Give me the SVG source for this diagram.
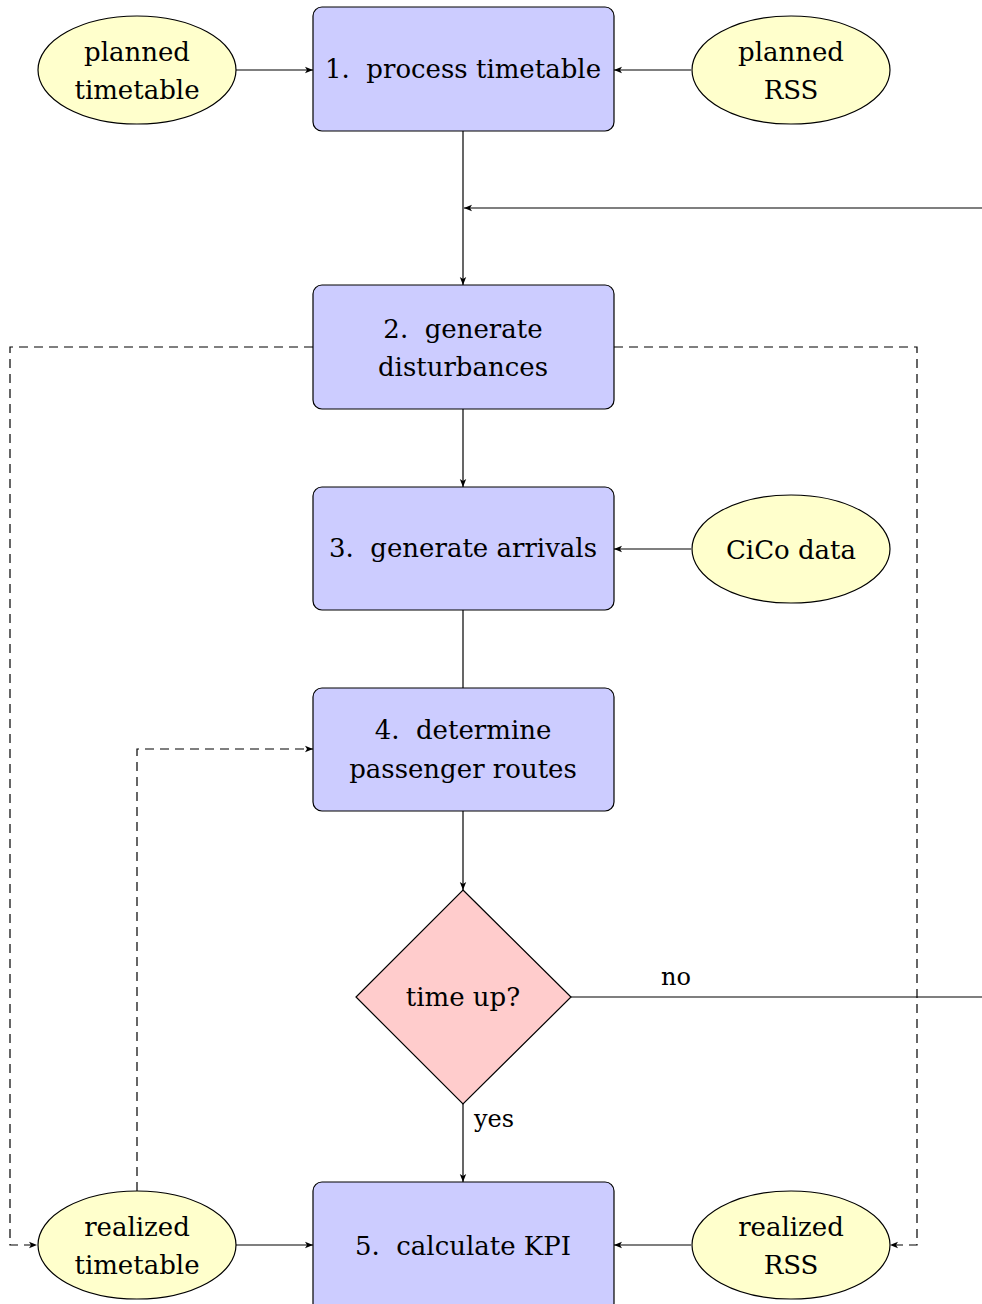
<svg xmlns="http://www.w3.org/2000/svg" width="982" height="1304" viewBox="0 0 982 1304">
<style>
.box{fill:#ccccff;stroke:#000;stroke-width:1.2}
.ell{fill:#ffffcc;stroke:#000;stroke-width:1.2}
.dec{fill:#ffcccc;stroke:#000;stroke-width:1.2}
.t{font-family:"DejaVu Serif","Liberation Serif",serif;font-size:26px;fill:#000;text-anchor:middle}
.tl{font-family:"DejaVu Serif","Liberation Serif",serif;font-size:24px;fill:#000}
.c{fill:none;stroke:#000;stroke-width:1.2}
.d{fill:none;stroke:#000;stroke-width:1.2;stroke-dasharray:9 6}
</style>
<defs>
<marker id="a" viewBox="0 0 10 10" refX="10" refY="5" markerWidth="8" markerHeight="8" markerUnits="userSpaceOnUse" orient="auto">
<path d="M0,1 L10,5 L0,9 L2.5,5 Z" fill="#000"/>
</marker>
</defs>
<g id="connectors">
<line class="c" x1="236" y1="70" x2="313" y2="70" marker-end="url(#a)"/>
<line class="c" x1="691" y1="70" x2="614" y2="70" marker-end="url(#a)"/>
<line class="c" x1="463" y1="131" x2="463" y2="285" marker-end="url(#a)"/>
<polyline class="c" points="571,997 982,997"/>
<line class="c" x1="982" y1="208" x2="464" y2="208" marker-end="url(#a)"/>
<line class="c" x1="463" y1="409" x2="463" y2="487" marker-end="url(#a)"/>
<line class="c" x1="691" y1="549" x2="614" y2="549" marker-end="url(#a)"/>
<line class="c" x1="463" y1="610" x2="463" y2="688"/>
<line class="c" x1="463" y1="811" x2="463" y2="890" marker-end="url(#a)"/>
<line class="c" x1="463" y1="1104" x2="463" y2="1182" marker-end="url(#a)"/>
<line class="c" x1="236" y1="1245" x2="313" y2="1245" marker-end="url(#a)"/>
<line class="c" x1="691" y1="1245" x2="614" y2="1245" marker-end="url(#a)"/>
<polyline class="d" points="313,347 10,347 10,1245 37,1245" marker-end="url(#a)"/>
<polyline class="d" points="614,347 917,347 917,1245 890,1245" marker-end="url(#a)"/>
<polyline class="d" points="137,1191 137,749 313,749" marker-end="url(#a)"/>
<text class="tl" x="661" y="985">no</text>
<text class="tl" x="474" y="1127">yes</text>
</g>
<g id="planned-timetable">
<ellipse class="ell" cx="137" cy="70" rx="99" ry="54"/>
<text class="t" x="137" y="61">planned</text>
<text class="t" x="137" y="99">timetable</text>
</g>
<g id="planned-rss">
<ellipse class="ell" cx="791" cy="70" rx="99" ry="54"/>
<text class="t" x="791" y="61">planned</text>
<text class="t" x="791" y="99">RSS</text>
</g>
<g id="step1">
<rect class="box" x="313" y="7" width="301" height="124" rx="9"/>
<text class="t" x="463" y="78">1.&#160; process timetable</text>
</g>
<g id="step2">
<rect class="box" x="313" y="285" width="301" height="124" rx="9"/>
<text class="t" x="463" y="338">2.&#160; generate</text>
<text class="t" x="463" y="376">disturbances</text>
</g>
<g id="step3">
<rect class="box" x="313" y="487" width="301" height="123" rx="9"/>
<text class="t" x="463" y="557">3.&#160; generate arrivals</text>
</g>
<g id="cico">
<ellipse class="ell" cx="791" cy="549" rx="99" ry="54"/>
<text class="t" x="791" y="559">CiCo data</text>
</g>
<g id="step4">
<rect class="box" x="313" y="688" width="301" height="123" rx="9"/>
<text class="t" x="463" y="739">4.&#160; determine</text>
<text class="t" x="463" y="778">passenger routes</text>
</g>
<g id="decision">
<polygon class="dec" points="463,890 571,997 463,1104 356,997"/>
<text class="t" x="463" y="1006">time up?</text>
</g>
<g id="realized-timetable">
<ellipse class="ell" cx="137" cy="1245" rx="99" ry="54"/>
<text class="t" x="137" y="1236">realized</text>
<text class="t" x="137" y="1274">timetable</text>
</g>
<g id="step5">
<rect class="box" x="313" y="1182" width="301" height="130" rx="9"/>
<text class="t" x="463" y="1255">5.&#160; calculate KPI</text>
</g>
<g id="realized-rss">
<ellipse class="ell" cx="791" cy="1245" rx="99" ry="54"/>
<text class="t" x="791" y="1236">realized</text>
<text class="t" x="791" y="1274">RSS</text>
</g>
</svg>
